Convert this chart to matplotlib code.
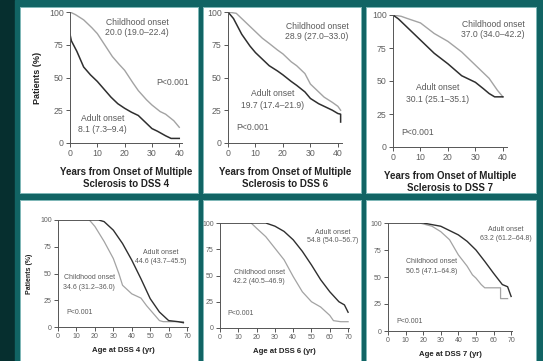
import matplotlib
matplotlib.use("Agg")
import matplotlib.pyplot as plt
from matplotlib.patches import Rectangle

plt.rcParams['font.family'] = ['Liberation Sans', 'DejaVu Sans']

# ---------------- data ----------------
# Top row: years from onset to DSS
t1_child = [0, 2, 5, 8, 10, 13, 15.5, 18, 20, 23, 25, 28, 30, 33, 35, 38, 40]
s1_child = [100, 98, 94, 88, 83.5, 74, 66, 60, 55.5, 46, 40, 33, 29, 24, 22, 17, 12]
t1_adult = [0, 0.5, 2.5, 5, 7.5, 10, 12.5, 15, 17.5, 20, 22.5, 25, 27.5, 30, 32, 35, 37, 40]
s1_adult = [83, 78, 70, 58, 52, 47, 41, 35, 30, 26.5, 23.5, 21, 16, 11, 9, 5.5, 3.5, 3.5]

t2_child = [0, 3, 5, 8, 10, 12.5, 15, 18, 20, 23, 25, 28, 30, 33, 35, 38, 40, 41]
s2_child = [100, 99, 95, 89, 85, 80, 76, 71, 68, 62, 59, 53, 45, 39, 35, 31, 28, 25]
t2_adult = [0, 2, 5, 8, 10, 12.5, 15, 18, 20, 23, 25, 28, 30, 33, 35, 38, 40, 41, 41]
s2_adult = [100, 95, 83, 74, 69, 64, 59, 55, 52, 47, 44, 39, 34, 30, 28, 25, 22.5, 22, 16]

t3_child = [0, 3, 5, 10, 15, 20, 25, 28, 30, 33, 35, 38, 40]
s3_child = [100, 99, 97.5, 94, 86, 80, 72, 66, 62, 56, 52, 43, 38]
t3_adult = [0, 2, 5, 10, 15, 20, 25, 28, 30, 33, 35, 37, 40]
s3_adult = [100, 97, 91, 81, 71, 63, 54, 51, 49, 44, 40.5, 38, 38]

# Bottom row: age at DSS
a1_child = [0, 17, 20, 25, 30, 33, 35, 40, 45, 48, 50, 53, 55, 57, 68]
p1_child = [100, 100, 94, 80, 64, 50, 39, 31, 27, 20, 16, 10, 6, 5, 5]
a1_adult = [0, 22, 25, 30, 35, 40, 45, 50, 55, 60, 65, 68]
p1_adult = [100, 100, 98.5, 90.5, 78, 62.5, 45, 26.5, 14, 6, 5, 4]

a2_child = [0, 17, 20, 25, 30, 35, 40, 45, 50, 55, 60, 62, 66, 70]
p2_child = [100, 100, 95, 87, 76, 65, 49, 34.5, 25, 20, 12, 7, 6, 6]
a2_adult = [0, 25, 30, 35, 40, 45, 50, 55, 60, 65, 68, 70]
p2_adult = [100, 100, 97, 92, 84, 73, 60, 46, 34.5, 25, 22, 15]

a3_child = [0, 18, 25, 30, 35, 40, 45, 48, 50, 53, 55, 64, 64, 68]
p3_child = [100, 100, 97, 92, 84.5, 70.5, 60, 52, 49, 43, 40, 40, 30, 30]
a3_adult = [0, 20, 30, 40, 45, 50, 55, 60, 65, 68, 70]
p3_adult = [100, 100, 97, 89, 83, 75, 64.5, 53.5, 43, 41, 32]

yticks = [0, 25, 50, 75, 100]
top_xticks = [0, 10, 20, 30, 40]
bot_xticks = [0, 10, 20, 30, 40, 50, 60, 70]

top_xlabels = ["Years from Onset of Multiple\nSclerosis to DSS 4",
               "Years from Onset of Multiple\nSclerosis to DSS 6",
               "Years from Onset of Multiple\nSclerosis to DSS 7"]
bot_xlabels = ["Age at DSS 4 (yr)", "Age at DSS 6 (yr)", "Age at DSS 7 (yr)"]

child_txt = ["20.0 (19.0\u201322.4)", "28.9 (27.0\u201333.0)", "37.0 (34.0\u201342.2)",
             "34.6 (31.2\u201336.0)", "42.2 (40.5\u201346.9)", "50.5 (47.1\u201364.8)"]
adult_txt = ["8.1 (7.3\u20139.4)", "19.7 (17.4\u201321.9)", "30.1 (25.1\u201335.1)",
             "44.6 (43.7\u201345.5)", "54.8 (54.0\u201356.7)", "63.2 (61.2\u201364.8)"]

# ---------------- figure ----------------
W, H = 543, 361
fig = plt.figure(figsize=(W / 100, H / 100), dpi=100)
fig.patch.set_facecolor('#0f6262')

def fr(x0, y0, x1, y1):
    return [x0 / W, 1 - y1 / H, (x1 - x0) / W, (y1 - y0) / H]

# background decoration
bg = fig.add_axes([0, 0, 1, 1])
bg.set_xlim(0, W); bg.set_ylim(H, 0); bg.axis('off')
bg.add_patch(Rectangle((0, 0), 15, H, color='#062f2f'))
bg.add_patch(Rectangle((15, 0), W - 15, H, color='#116464'))
panels = [(21, 8, 198, 193), (204, 8, 361, 193), (367, 8, 536, 193),
          (21, 201, 198, 361), (204, 201, 361, 361), (367, 201, 536, 361)]
for (x0, y0, x1, y1) in panels:
    bg.add_patch(Rectangle((x0 - 1, y0 - 1), x1 - x0 + 2, y1 - y0 + 2,
                           facecolor='#7fb7b7', edgecolor='none'))
    bg.add_patch(Rectangle((x0, y0), x1 - x0, y1 - y0, facecolor='white',
                           edgecolor='none'))

child_c = '#a3a3a3'
adult_c = '#2f2f2f'
txt_c = '#5a5a5a'

def style(ax, xticks, fs):
    for s in ['top', 'right']:
        ax.spines[s].set_visible(False)
    for s in ['left', 'bottom']:
        ax.spines[s].set_color('#555555')
        ax.spines[s].set_linewidth(0.7)
    ax.set_yticks(yticks)
    ax.set_xticks(xticks)
    ax.tick_params(length=3, width=0.7, color='#555555', labelsize=fs,
                   labelcolor='#606060', pad=1.5)
    ax.set_facecolor('none')

# Top row axes (pixel boxes)
top_boxes = [(70, 12, 182, 143), (228, 12, 342, 143), (393, 15, 507, 147)]
top_data = [(t1_child, s1_child, t1_adult, s1_adult),
            (t2_child, s2_child, t2_adult, s2_adult),
            (t3_child, s3_child, t3_adult, s3_adult)]
top_xmax = [41, 41.5, 41.5]
top_child_pos = [(24.5, 92), (32.4, 89), (36.4, 93)]
top_adult_pos = [(12, 19), (16.3, 37.5), (16.3, 44.7)]
top_p_pos = [(37.7, 46.5), (9, 12), (9, 11)]

for i in range(3):
    ax = fig.add_axes(fr(*top_boxes[i]))
    tc, sc, ta, sa = top_data[i]
    ax.plot(tc, sc, color=child_c, lw=1.0)
    ax.plot(ta, sa, color=adult_c, lw=1.1)
    ax.set_xlim(0, top_xmax[i]); ax.set_ylim(0, 100)
    style(ax, top_xticks, 6.3)
    cx, cy = top_child_pos[i]
    ax.text(cx, cy, "Childhood onset", ha='center', va='center', fontsize=6.2, color=txt_c, clip_on=False)
    ax.text(cx, cy - 7.5, child_txt[i], ha='center', va='center', fontsize=6.2, color=txt_c, clip_on=False)
    ax_, ay_ = top_adult_pos[i]
    ax.text(ax_, ay_, "Adult onset", ha='center', va='center', fontsize=6.2, color=txt_c, clip_on=False)
    ax.text(ax_, ay_ - 9, adult_txt[i], ha='center', va='center', fontsize=6.2, color=txt_c, clip_on=False)
    px, py = top_p_pos[i]
    ax.text(px, py, "P<0.001", ha='center', va='center', fontsize=6.2, color=txt_c, clip_on=False)
    ax.set_xlabel(top_xlabels[i], fontsize=7, fontweight='bold', color='#222222',
                  labelpad=6, linespacing=1.25)
    if i == 0:
        ax.set_ylabel("Patients (%)", fontsize=6.5, fontweight='bold', color='#222222', labelpad=5)

# Bottom row axes
bot_boxes = [(58, 220, 188, 327), (220, 223, 349, 328), (388, 223, 512, 331)]
bot_data = [(a1_child, p1_child, a1_adult, p1_adult),
            (a2_child, p2_child, a2_adult, p2_adult),
            (a3_child, p3_child, a3_adult, p3_adult)]
bot_child_pos = [(17, 45.8), (21.5, 53), (24.8, 64)]
bot_adult_pos = [(55.5, 70), (61.5, 91.4), (67, 94.4)]
bot_p_pos = [(11.8, 14), (11, 14), (12.4, 8.5)]

for i in range(3):
    ax = fig.add_axes(fr(*bot_boxes[i]))
    tc, sc, ta, sa = bot_data[i]
    ax.plot(tc, sc, color=child_c, lw=0.9)
    ax.plot(ta, sa, color=adult_c, lw=1.0)
    ax.set_xlim(0, 70.5); ax.set_ylim(0, 100)
    style(ax, bot_xticks, 5)
    cx, cy = bot_child_pos[i]
    ax.text(cx, cy, "Childhood onset", ha='center', va='center', fontsize=5, color=txt_c, clip_on=False)
    ax.text(cx, cy - 8.5, child_txt[i + 3], ha='center', va='center', fontsize=5, color=txt_c, clip_on=False)
    ax_, ay_ = bot_adult_pos[i]
    ax.text(ax_, ay_, "Adult onset", ha='center', va='center', fontsize=5, color=txt_c, clip_on=False)
    ax.text(ax_, ay_ - 8.5, adult_txt[i + 3], ha='center', va='center', fontsize=5, color=txt_c, clip_on=False)
    px, py = bot_p_pos[i]
    ax.text(px, py, "P<0.001", ha='center', va='center', fontsize=5, color=txt_c, clip_on=False)
    ax.set_xlabel(bot_xlabels[i], fontsize=5.6, fontweight='bold', color='#222222', labelpad=5)
    if i == 0:
        ax.set_ylabel("Patients (%)", fontsize=5, fontweight='bold', color='#222222', labelpad=5)

fig.savefig("out.png", dpi=100, facecolor=fig.get_facecolor())
